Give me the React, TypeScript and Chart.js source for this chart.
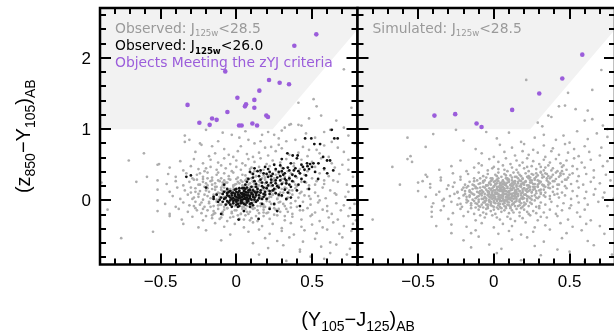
import React, { useEffect, useRef } from "react";
import { Chart, registerables } from "chart.js";

Chart.register(...registerables);

// ---------- axes ----------
const X_MIN = -0.9;
const X_MAX = 0.8;
const Y_MIN = -0.9;
const Y_MAX = 2.7;
const xMajorTicks = [-0.5, 0, 0.5];
const xTickLabels = ["\u22120.5", "0", "0.5"];
const xMinorTicks = [-0.8, -0.7, -0.6, -0.4, -0.3, -0.2, -0.1, 0.1, 0.2, 0.3, 0.4, 0.6, 0.7];
const yMajorTicks = [0, 1, 2];
const yTickLabels = ["0", "1", "2"];
const yMinorTicks = [-0.8, -0.6, -0.4, -0.2, 0.2, 0.4, 0.6, 0.8, 1.2, 1.4, 1.6, 1.8, 2.2, 2.4, 2.6];

// ---------- zYJ selection boundary ----------
const selectionX = [-0.9, 0.24, 0.8];
const selectionY = [1.0, 1.0, 2.4];

// ---------- observed, J125w < 28.5 (gray) ----------
const leftGray: number[][] = [
  [0.51,1.42],[0.41,1.37],[0.53,1.32],[0.71,1.84],[0.48,1.15],[0.56,1.19],[0.43,1.05],[0.36,1.07],[0.62,0.99],[0.71,1.02],[0.32,1.02],[0.35,1.06],[0.41,1.06],[0.66,1.12],[0.76,1.30],
  [-0.34,0.91],[-0.20,0.99],[-0.09,0.95],[-0.03,0.92],[0.06,0.97],[0.17,0.92],[0.21,0.96],[0.25,0.92],[0.30,0.98],[0.46,0.94],[0.58,0.96],[0.74,0.91],
  [-0.34,0.82],[-0.31,0.85],[-0.12,0.83],[0.02,0.88],[0.08,0.85],[0.16,0.83],[0.28,0.87],[0.33,0.83],[0.39,0.85],[0.52,0.88],[0.63,0.82],[0.78,0.80],
  [-0.24,0.80],[-0.23,0.78],[-0.08,0.72],[0.03,0.76],[0.12,0.80],[0.19,0.74],[0.23,0.75],[0.28,0.78],[0.30,0.73],[0.44,0.75],[0.48,0.71],[0.53,0.71],[0.58,0.77],[0.67,0.74],[-0.16,0.76],
  [-0.61,0.66],[-0.27,0.68],[-0.18,0.62],[-0.14,0.66],[-0.05,0.64],[0.01,0.69],[0.07,0.65],[0.11,0.61],[0.15,0.67],[0.21,0.63],[0.26,0.69],[0.35,0.64],[0.41,0.67],[0.47,0.62],[0.61,0.61],[0.71,0.68],[-0.02,0.61],[0.55,0.66],
  [-0.71,0.56],[-0.52,0.50],[-0.51,0.51],[-0.37,0.55],[-0.28,0.58],[-0.22,0.52],[-0.17,0.57],[-0.12,0.53],[-0.08,0.59],[-0.04,0.51],[0.00,0.56],[0.04,0.52],[0.08,0.58],[0.12,0.54],[0.16,0.59],[0.20,0.51],[0.24,0.56],[0.29,0.53],[0.33,0.58],[0.38,0.52],[0.43,0.57],[0.50,0.54],[0.56,0.59],[0.63,0.52],[0.70,0.50],[0.74,0.57],
  [-0.44,0.46],[-0.35,0.42],[-0.30,0.48],[-0.25,0.44],[-0.21,0.41],[-0.17,0.47],[-0.13,0.43],[-0.10,0.49],[-0.07,0.45],[-0.03,0.41],[0.00,0.47],[0.03,0.43],[0.06,0.49],[0.09,0.44],[0.12,0.41],[0.15,0.47],[0.18,0.43],[0.22,0.48],[0.26,0.42],[0.30,0.46],[0.34,0.41],[0.38,0.48],[0.42,0.44],[0.47,0.41],[0.52,0.47],[0.58,0.43],[0.65,0.46],[0.74,0.43],[-0.20,0.45],[0.10,0.46],
  [-0.59,0.33],[-0.52,0.28],[-0.45,0.37],[-0.40,0.33],[-0.33,0.38],[-0.29,0.31],[-0.26,0.36],[-0.22,0.33],[-0.19,0.39],[-0.16,0.32],[-0.13,0.36],[-0.10,0.31],[-0.08,0.38],[-0.05,0.34],[-0.02,0.39],[0.01,0.32],[0.04,0.36],[0.07,0.31],[0.10,0.38],[0.13,0.34],[0.16,0.39],[0.19,0.32],[0.22,0.36],[0.25,0.31],[0.28,0.37],[0.32,0.33],[0.36,0.38],[0.40,0.32],[0.45,0.36],[0.50,0.31],[0.55,0.38],[0.61,0.34],[0.68,0.37],[0.77,0.33],[-0.12,0.39],[0.06,0.35],[0.18,0.35],[0.30,0.39],[-0.24,0.38],[0.42,0.38],
  [-0.89,0.25],[-0.66,0.26],[-0.46,0.23],[-0.40,0.27],[-0.35,0.21],[-0.31,0.26],[-0.28,0.29],[-0.25,0.22],[-0.22,0.26],[-0.19,0.21],[-0.16,0.28],[-0.14,0.24],[-0.11,0.27],[-0.09,0.21],[-0.06,0.25],[-0.04,0.29],[-0.01,0.22],[0.01,0.26],[0.04,0.21],[0.06,0.28],[0.09,0.24],[0.11,0.27],[0.14,0.21],[0.16,0.25],[0.19,0.29],[0.22,0.23],[0.25,0.27],[0.28,0.21],[0.31,0.25],[0.35,0.29],[0.39,0.22],[0.43,0.26],[0.48,0.21],[0.53,0.27],[0.58,0.23],[0.64,0.28],[0.67,0.26],[0.73,0.22],[-0.08,0.28],[0.02,0.24],[0.12,0.23],[0.20,0.26],[0.33,0.23],[-0.20,0.24],
  [-0.52,0.15],[-0.44,0.12],[-0.39,0.18],[-0.34,0.14],[-0.30,0.11],[-0.27,0.17],[-0.24,0.13],[-0.21,0.19],[-0.18,0.12],[-0.16,0.16],[-0.14,0.19],[-0.12,0.11],[-0.10,0.15],[-0.08,0.18],[-0.06,0.12],[-0.04,0.16],[-0.02,0.19],[0.00,0.11],[0.02,0.14],[0.04,0.18],[0.06,0.12],[0.08,0.16],[0.10,0.19],[0.12,0.13],[0.14,0.17],[0.16,0.11],[0.18,0.15],[0.20,0.19],[0.23,0.12],[0.26,0.16],[0.29,0.11],[0.32,0.18],[0.35,0.14],[0.39,0.17],[0.43,0.12],[0.47,0.16],[0.52,0.11],[0.57,0.18],[0.62,0.14],[0.65,0.10],[0.74,0.12],[0.77,0.19],[-0.03,0.13],[0.05,0.15],[0.11,0.16],[0.21,0.14],[-0.09,0.13],[0.28,0.19],
  [-0.52,0.00],[-0.42,0.06],[-0.37,0.02],[-0.32,0.08],[-0.28,0.04],[-0.25,0.09],[-0.22,0.01],[-0.19,0.06],[-0.17,0.03],[-0.15,0.08],[-0.13,0.01],[-0.11,0.05],[-0.09,0.09],[-0.07,0.02],[-0.05,0.06],[-0.03,0.03],[-0.01,0.08],[0.01,0.01],[0.03,0.05],[0.05,0.09],[0.07,0.03],[0.09,0.07],[0.11,0.01],[0.13,0.05],[0.15,0.09],[0.17,0.02],[0.19,0.06],[0.21,0.03],[0.24,0.08],[0.27,0.02],[0.30,0.06],[0.33,0.01],[0.37,0.08],[0.41,0.04],[0.45,0.07],[0.49,0.02],[0.54,0.06],[0.59,0.03],[0.66,0.08],[0.72,0.05],[0.78,0.01],[-0.08,0.05],[0.00,0.04],[0.08,0.06],[0.16,0.05],[0.23,0.05],
  [-0.47,-0.05],[-0.40,-0.09],[-0.35,-0.03],[-0.31,-0.07],[-0.27,-0.02],[-0.24,-0.06],[-0.21,-0.09],[-0.18,-0.04],[-0.15,-0.08],[-0.13,-0.02],[-0.10,-0.06],[-0.08,-0.09],[-0.06,-0.03],[-0.03,-0.07],[-0.01,-0.01],[0.02,-0.05],[0.04,-0.09],[0.06,-0.02],[0.09,-0.06],[0.11,-0.03],[0.14,-0.08],[0.16,-0.04],[0.19,-0.09],[0.22,-0.02],[0.25,-0.06],[0.28,-0.03],[0.32,-0.08],[0.36,-0.04],[0.40,-0.09],[0.44,-0.02],[0.49,-0.06],[0.54,-0.03],[0.60,-0.08],[0.66,-0.04],[0.71,-0.07],[0.78,-0.05],[-0.04,-0.04],[0.07,-0.08],[0.18,-0.06],
  [-0.85,-0.13],[-0.52,-0.15],[-0.44,-0.19],[-0.38,-0.12],[-0.32,-0.16],[-0.27,-0.11],[-0.23,-0.18],[-0.19,-0.14],[-0.15,-0.19],[-0.12,-0.12],[-0.09,-0.16],[-0.06,-0.11],[-0.03,-0.18],[0.00,-0.14],[0.03,-0.19],[0.06,-0.12],[0.09,-0.16],[0.12,-0.11],[0.15,-0.18],[0.18,-0.13],[0.21,-0.17],[0.25,-0.11],[0.29,-0.16],[0.33,-0.12],[0.37,-0.19],[0.42,-0.14],[0.47,-0.11],[0.52,-0.17],[0.57,-0.13],[0.63,-0.19],[0.69,-0.14],[0.75,-0.11],
  [-0.44,-0.22],[-0.36,-0.27],[-0.29,-0.23],[-0.22,-0.28],[-0.16,-0.21],[-0.11,-0.26],[-0.06,-0.29],[-0.02,-0.23],[0.02,-0.27],[0.06,-0.21],[0.10,-0.25],[0.14,-0.29],[0.18,-0.22],[0.22,-0.26],[0.27,-0.21],[0.32,-0.28],[0.37,-0.23],[0.43,-0.27],[0.49,-0.22],[0.55,-0.29],[0.61,-0.24],[0.67,-0.27],[0.74,-0.22],[0.79,-0.28],
  [-0.35,-0.33],[-0.25,-0.38],[-0.14,-0.32],[-0.08,-0.37],[-0.01,-0.33],[0.05,-0.38],[0.11,-0.31],[0.17,-0.36],[0.24,-0.33],[0.30,-0.39],[0.36,-0.32],[0.43,-0.37],[0.50,-0.34],[0.57,-0.38],[0.64,-0.31],[0.71,-0.36],[0.77,-0.33],
  [-0.55,-0.44],[-0.20,-0.42],[-0.04,-0.48],[0.08,-0.44],[0.15,-0.41],[0.22,-0.47],[0.30,-0.43],[0.38,-0.48],[0.45,-0.42],[0.53,-0.46],[0.60,-0.41],[0.68,-0.47],[0.76,-0.43],
  [-0.76,-0.53],[-0.10,-0.56],[0.11,-0.60],[0.19,-0.53],[0.27,-0.57],[0.35,-0.52],[0.44,-0.58],[0.52,-0.54],[0.62,-0.59],[0.70,-0.52],
  [0.21,-0.67],[0.31,-0.63],[0.42,-0.69],[0.56,-0.65],[0.66,-0.62],[0.75,-0.68],
  [0.15,-0.76],[0.42,-0.72],[0.49,-0.79],[0.62,-0.74],[0.73,-0.76],
  [0.33,-0.85],[0.58,-0.82],
];

const leftGrayCore: number[][] = [
  [-0.25,0.05],[-0.22,-0.12],[-0.20,0.14],[-0.18,-0.02],[-0.16,0.22],[-0.15,-0.15],[-0.13,0.09],[-0.12,0.28],[-0.11,-0.06],[-0.10,0.18],[-0.09,-0.20],[-0.08,0.03],[-0.07,0.25],[-0.06,-0.11],[-0.05,0.14],[-0.04,-0.24],[-0.03,0.06],[-0.02,0.21],[-0.01,-0.14],[0.00,0.30],[0.01,-0.03],[0.02,0.16],[0.03,-0.19],[0.04,0.26],[0.05,-0.09],[0.06,0.11],[0.07,-0.16],[0.08,0.22],[0.09,-0.04],[0.10,0.31],[0.11,-0.12],[0.12,0.19],[0.13,-0.22],[0.14,0.08],[0.15,0.27],[0.16,-0.08],[0.17,0.15],[0.18,-0.17],[0.19,0.24],[0.20,-0.01],[0.21,0.33],[0.22,-0.10],[0.23,0.20],[0.24,0.08],[0.25,-0.20],[0.26,0.29],[0.27,0.02],[0.28,-0.12],[0.30,0.16],[0.31,-0.05],[0.33,0.26],[0.34,-0.16],[0.35,0.10],[-0.14,0.15],[-0.19,0.31],[-0.28,-0.08],[-0.30,0.18],[-0.26,0.29],[0.02,-0.26],[0.09,-0.28],
  [-0.29,0.02],[-0.27,0.12],[-0.26,-0.14],[-0.24,0.22],[-0.23,-0.03],[-0.21,0.08],[-0.20,-0.22],[-0.19,0.17],[-0.17,-0.09],[-0.17,0.27],[-0.15,0.04],[-0.14,-0.18],[-0.13,0.19],[-0.12,-0.07],[-0.11,0.10],[-0.10,-0.24],[-0.09,0.25],[-0.08,-0.13],[-0.07,0.13],[-0.06,-0.05],[-0.05,0.30],[-0.04,0.09],[-0.03,-0.16],[-0.02,0.15],[-0.01,-0.08],[0.00,0.23],[0.01,-0.21],[0.02,0.10],[0.03,0.28],[0.04,-0.12],[0.05,0.20],[0.06,-0.03],[0.07,0.29],[0.08,-0.19],[0.09,0.18],[0.10,-0.10],[0.11,0.26],[0.12,-0.02],[0.13,0.13],[0.14,-0.14],[0.15,0.21],[0.16,0.02],[0.17,0.31],[0.18,-0.09],[0.19,0.09],[0.20,-0.18],[0.21,0.20],[0.22,0.05],[0.23,-0.05],[0.24,0.28],[0.25,0.13],[0.26,-0.13],[0.27,0.21],[0.28,0.06],[0.29,-0.02],[0.30,0.30],[0.31,0.11],[0.32,-0.22],[0.33,0.17],[0.34,0.04],[0.35,0.33],[0.36,-0.10],[0.37,0.14],[0.38,0.26],[0.39,-0.01],[0.40,0.20],[-0.22,0.30],[-0.16,-0.25],[0.13,0.34],[0.05,-0.27],[0.26,0.36],[0.42,0.10],[0.44,-0.14],[0.46,0.25],[0.48,0.06],[0.50,-0.20],[0.52,0.22],[0.55,0.00],[0.58,0.28],[0.60,-0.15],
];

// ---------- observed, J125w < 26.0 (black) ----------
const leftBlack: number[][] = [
  [0.63,0.99],[0.647,0.87],[0.669,0.87],[0.495,0.87],[0.454,0.87],[0.515,0.79],[0.553,0.79],[0.337,0.66],[0.372,0.63],[0.405,0.63],[0.573,0.61],[0.619,0.56],[0.599,0.56],[0.467,0.52],[0.487,0.51],[0.509,0.52],[0.542,0.52],[0.40,0.59],[0.30,0.58],[0.25,0.50],[0.44,0.47],[0.48,0.44],[0.52,0.40],[0.58,0.45],[0.36,0.52],[0.29,0.49],
  [0.12,0.45],[0.16,0.42],[0.19,0.47],[0.22,0.40],[0.26,0.44],[0.30,0.41],[0.34,0.46],[0.38,0.42],[0.42,0.38],[0.46,0.35],[0.11,0.37],[0.15,0.34],[0.18,0.38],[0.21,0.33],[0.24,0.37],[0.27,0.32],[0.31,0.36],[0.35,0.31],[0.39,0.34],[0.43,0.30],[0.08,0.30],[0.12,0.27],[0.16,0.29],[0.20,0.25],[0.23,0.29],[0.26,0.24],[0.29,0.28],[0.33,0.24],[0.37,0.27],[0.41,0.22],[0.45,0.26],[0.06,0.22],[0.10,0.19],[0.13,0.23],[0.17,0.20],[0.20,0.17],[0.24,0.21],[0.28,0.18],[0.32,0.15],[0.36,0.19],[0.40,0.14],[0.09,0.14],[0.14,0.12],[0.18,0.09],[0.22,0.13],[0.26,0.10],[0.30,0.07],[0.34,0.11],[0.05,0.17],[0.07,0.26],[0.14,0.41],[0.23,0.34],[0.28,0.40],[0.32,0.30],[0.20,0.37],[0.17,0.25],[0.25,0.16],[0.35,0.22],[0.21,0.44],[0.31,0.45],[0.11,0.32],[0.09,0.40],
  [-0.08,0.02],[-0.06,0.07],[-0.05,-0.03],[-0.04,0.04],[-0.03,0.10],[-0.02,-0.01],[-0.01,0.06],[0.00,0.01],[0.00,0.12],[0.01,-0.05],[0.01,0.08],[0.02,0.03],[0.02,-0.08],[0.03,0.10],[0.03,0.00],[0.04,0.05],[0.04,-0.03],[0.05,0.13],[0.05,0.02],[0.06,0.08],[0.06,-0.06],[0.07,0.04],[0.07,0.11],[0.08,-0.01],[0.08,0.07],[0.09,0.03],[0.09,0.15],[0.10,-0.04],[0.10,0.09],[0.11,0.05],[0.12,0.01],[0.12,0.12],[-0.07,-0.06],[-0.09,0.09],[-0.10,0.04],[-0.03,-0.09],[-0.01,0.15],[0.02,0.17],[0.06,0.16],[0.13,0.07],[0.14,0.16],[0.15,0.03],[0.16,0.11],[-0.02,0.03],[0.01,0.04],[0.04,0.08],[0.03,-0.04],[0.05,0.06],[0.00,-0.02],[0.07,0.00],[-0.04,0.00],[0.02,0.07],[0.06,0.02],[0.08,0.11],[-0.05,0.12],[0.11,-0.07],[-0.12,-0.02],[0.13,-0.02],[0.09,-0.09],[-0.06,0.16],[0.18,0.05],[0.17,-0.05],[0.20,0.02],[0.19,0.12],[-0.13,0.08],
  [-0.07,0.04],[-0.06,0.10],[-0.06,-0.01],[-0.05,0.06],[-0.04,-0.06],[-0.04,0.13],[-0.03,0.02],[-0.03,0.07],[-0.02,0.11],[-0.02,-0.04],[-0.01,0.01],[-0.01,0.09],[0.00,0.05],[0.00,-0.06],[0.01,0.11],[0.01,0.00],[0.02,0.06],[0.02,0.13],[0.03,-0.02],[0.03,0.04],[0.04,0.10],[0.04,0.01],[0.05,-0.05],[0.05,0.09],[0.06,0.04],[0.06,0.12],[0.07,-0.03],[0.07,0.07],[0.08,0.02],[0.08,0.14],[0.09,0.06],[0.09,-0.05],[0.10,0.11],[0.10,0.01],[0.11,0.08],[0.11,0.14],[0.12,0.04],[0.13,0.10],[0.14,0.00],[0.15,0.07],[0.16,0.14],[0.17,0.02],[0.18,0.18],[0.19,0.08],[0.21,0.21],[0.22,0.09],[0.23,0.25],[0.24,0.14],[0.26,0.28],[0.27,0.20],[0.29,0.34],[0.30,0.23],[0.32,0.38],[0.33,0.28],[0.35,0.42],[0.37,0.36],[0.39,0.45],[0.41,0.41],[0.43,0.50],[0.45,0.43],[0.47,0.48],[0.50,0.47],[-0.09,-0.02],[-0.08,0.12],[0.00,0.16],[0.04,0.17],[0.01,-0.09],[0.07,0.18],[-0.11,0.01],[0.13,0.19],
  [-0.33,0.33],[-0.30,0.35],[-0.15,0.02],[-0.15,0.05],[0.015,-0.27],[0.147,-0.26],[-0.10,-0.19],[0.42,-0.08],[0.28,0.08],[0.25,-0.05],[0.22,-0.12],[0.33,0.02],[-0.20,0.18],[-0.08,0.22],[0.05,-0.15],[0.27,-0.15],[0.36,0.04],[0.48,0.16],[0.54,0.30],[0.60,0.38],[0.64,0.42],
];

// ---------- objects meeting the zYJ criteria (observed) ----------
const leftPurple: number[][] = [
  [0.528,2.33],[0.383,2.17],[-0.073,1.81],[0.216,1.69],[0.286,1.65],[0.348,1.63],[0.152,1.54],[-0.322,1.34],[0.007,1.44],[0.119,1.41],[0.064,1.35],[0.057,1.32],[0.119,1.30],[-0.059,1.24],[0.198,1.19],[0.209,1.17],[-0.160,1.15],[-0.130,1.13],[-0.244,1.09],[-0.176,1.06],[0.018,1.05],[0.035,1.05],[0.106,1.08],[0.137,1.05],
];

// ---------- simulated, J125w < 28.5 (gray) ----------
const rightGray: number[][] = [
  [0.214,1.69],[0.71,1.83],[0.65,1.55],[0.49,1.51],[0.43,1.32],[0.47,1.33],[0.54,1.28],[0.62,1.26],[0.36,1.19],[0.38,1.17],[0.29,1.09],[0.32,1.04],[0.60,1.12],[0.65,1.14],[0.72,1.05],[0.75,1.0],
  [-0.57,0.88],[-0.40,0.93],[-0.25,0.99],[0.10,0.95],[-0.05,0.96],[0.33,0.92],[0.55,0.97],[0.68,0.94],[0.46,0.91],
  [-0.20,0.84],[0.02,0.87],[0.18,0.82],[0.27,0.88],[0.41,0.85],[0.50,0.81],[0.62,0.86],[0.75,0.89],
  [-0.45,0.75],[-0.12,0.72],[0.04,0.78],[0.12,0.74],[0.20,0.79],[0.26,0.71],[0.33,0.77],[0.39,0.73],[0.47,0.79],[0.53,0.72],[0.60,0.76],[0.71,0.74],
  [-0.55,0.62],[-0.08,0.66],[0.00,0.61],[0.07,0.68],[0.14,0.63],[0.19,0.69],[0.23,0.64],[0.29,0.67],[0.34,0.61],[0.38,0.69],[0.43,0.64],[0.49,0.67],[0.56,0.62],[0.63,0.68],[0.70,0.63],
  [-0.57,0.58],[-0.54,0.54],[-0.22,0.56],[-0.10,0.52],[-0.03,0.58],[0.03,0.54],[0.08,0.59],[0.11,0.51],[0.15,0.56],[0.19,0.53],[0.22,0.59],[0.26,0.55],[0.30,0.51],[0.33,0.57],[0.37,0.53],[0.41,0.58],[0.44,0.52],[0.48,0.56],[0.53,0.59],[0.58,0.53],[0.64,0.57],[0.75,0.55],
  [-0.67,0.47],[-0.36,0.43],[-0.28,0.48],[-0.18,0.41],[-0.13,0.46],[-0.08,0.49],[-0.04,0.42],[0.00,0.47],[0.03,0.44],[0.06,0.49],[0.09,0.41],[0.12,0.46],[0.15,0.43],[0.17,0.49],[0.20,0.45],[0.23,0.41],[0.25,0.48],[0.28,0.44],[0.31,0.47],[0.33,0.42],[0.36,0.49],[0.39,0.45],[0.42,0.41],[0.45,0.47],[0.48,0.43],[0.52,0.48],[0.55,0.44],[0.60,0.46],[0.66,0.42],[0.72,0.48],[0.22,0.47],[0.07,0.43],[-0.01,0.45],[0.34,0.46],[0.46,0.49],
  [-0.45,0.36],[-0.35,0.32],[-0.27,0.38],[-0.22,0.33],[-0.17,0.37],[-0.13,0.31],[-0.10,0.39],[-0.07,0.34],[-0.04,0.37],[-0.02,0.31],[0.01,0.36],[0.03,0.39],[0.05,0.33],[0.07,0.37],[0.09,0.31],[0.11,0.35],[0.13,0.39],[0.15,0.33],[0.17,0.36],[0.19,0.31],[0.21,0.38],[0.23,0.34],[0.25,0.37],[0.27,0.31],[0.29,0.35],[0.31,0.39],[0.33,0.33],[0.35,0.37],[0.37,0.31],[0.39,0.36],[0.41,0.39],[0.43,0.33],[0.46,0.37],[0.49,0.32],[0.52,0.38],[0.56,0.34],[0.61,0.37],[0.66,0.32],[0.74,0.36],[0.08,0.35],[0.18,0.34],[0.28,0.38],[0.36,0.34],[-0.05,0.32],[0.12,0.32],[0.24,0.32],[0.44,0.38],[0.02,0.34],[0.16,0.39],[0.32,0.36],
  [-0.62,0.22],[-0.50,0.25],[-0.47,0.27],[-0.44,0.33],[-0.42,0.23],[-0.35,0.28],[-0.30,0.21],[-0.26,0.25],[-0.22,0.29],[-0.19,0.22],[-0.16,0.26],[-0.13,0.21],[-0.11,0.28],[-0.09,0.24],[-0.07,0.27],[-0.05,0.21],[-0.03,0.25],[-0.01,0.29],[0.01,0.23],[0.03,0.27],[0.05,0.21],[0.07,0.25],[0.09,0.29],[0.11,0.22],[0.13,0.26],[0.15,0.21],[0.17,0.28],[0.19,0.24],[0.21,0.27],[0.23,0.21],[0.25,0.25],[0.27,0.29],[0.29,0.22],[0.31,0.26],[0.33,0.21],[0.35,0.28],[0.37,0.24],[0.39,0.27],[0.42,0.22],[0.45,0.26],[0.48,0.29],[0.51,0.23],[0.55,0.27],[0.59,0.22],[0.64,0.26],[0.70,0.24],[0.77,0.28],[0.00,0.26],[0.06,0.28],[0.12,0.24],[0.18,0.22],[0.24,0.28],[0.30,0.24],[0.36,0.22],[-0.02,0.22],[0.08,0.23],[0.14,0.27],[0.20,0.25],[0.26,0.23],[0.04,0.24],[0.10,0.26],[0.16,0.24],
  [-0.50,0.13],[-0.42,0.18],[-0.36,0.12],[-0.31,0.16],[-0.27,0.19],[-0.24,0.11],[-0.21,0.15],[-0.18,0.18],[-0.16,0.12],[-0.14,0.16],[-0.12,0.19],[-0.10,0.11],[-0.08,0.14],[-0.06,0.18],[-0.04,0.12],[-0.02,0.16],[0.00,0.19],[0.01,0.11],[0.03,0.14],[0.04,0.18],[0.06,0.12],[0.07,0.16],[0.09,0.19],[0.10,0.11],[0.12,0.15],[0.13,0.18],[0.15,0.12],[0.16,0.16],[0.18,0.19],[0.19,0.11],[0.21,0.14],[0.23,0.18],[0.25,0.12],[0.27,0.16],[0.29,0.19],[0.31,0.11],[0.33,0.15],[0.36,0.18],[0.39,0.12],[0.42,0.16],[0.45,0.11],[0.48,0.17],[0.52,0.13],[0.56,0.18],[0.61,0.12],[0.67,0.16],[0.73,0.11],[-0.01,0.13],[0.05,0.15],[0.08,0.13],[0.11,0.17],[0.14,0.14],[0.17,0.13],[0.20,0.17],[0.24,0.15],[-0.07,0.12],[-0.03,0.17],[0.02,0.16],[0.22,0.12],[0.28,0.13],[-0.11,0.17],[0.34,0.19],[-0.19,0.13],[0.06,0.19],[0.26,0.19],
  [-0.45,0.05],[-0.38,0.08],[-0.33,0.02],[-0.29,0.06],[-0.26,0.09],[-0.23,0.03],[-0.20,0.07],[-0.18,0.01],[-0.16,0.05],[-0.14,0.09],[-0.12,0.03],[-0.10,0.06],[-0.09,0.09],[-0.07,0.02],[-0.06,0.05],[-0.04,0.08],[-0.03,0.01],[-0.02,0.04],[0.00,0.07],[0.01,0.02],[0.02,0.09],[0.03,0.05],[0.04,0.01],[0.05,0.07],[0.06,0.03],[0.07,0.09],[0.08,0.05],[0.09,0.01],[0.10,0.08],[0.11,0.04],[0.12,0.06],[0.13,0.02],[0.14,0.09],[0.15,0.05],[0.17,0.01],[0.18,0.07],[0.20,0.03],[0.21,0.08],[0.23,0.05],[0.25,0.01],[0.27,0.07],[0.29,0.03],[0.31,0.09],[0.34,0.05],[0.37,0.02],[0.40,0.08],[0.43,0.04],[0.47,0.07],[0.51,0.02],[0.55,0.06],[0.60,0.03],[0.66,0.08],[0.72,0.04],[0.79,0.02],[-0.01,0.06],[0.03,0.08],[0.06,0.06],[0.09,0.04],[0.12,0.09],[-0.05,0.03],[-0.08,0.07],[0.16,0.08],[0.19,0.05],[0.22,0.02],[0.00,0.03],[0.07,0.00],[-0.03,0.09],[0.14,0.03],[0.04,0.04],[0.10,0.02],
  [-0.40,-0.04],[-0.34,0.00],[-0.33,-0.08],[-0.28,-0.02],[-0.24,-0.06],[-0.21,-0.09],[-0.18,-0.03],[-0.15,-0.07],[-0.13,-0.01],[-0.11,-0.05],[-0.09,-0.09],[-0.07,-0.03],[-0.05,-0.06],[-0.03,-0.02],[-0.01,-0.08],[0.01,-0.04],[0.03,-0.07],[0.05,-0.01],[0.06,-0.05],[0.08,-0.09],[0.10,-0.03],[0.12,-0.06],[0.14,-0.02],[0.16,-0.08],[0.18,-0.04],[0.20,-0.07],[0.22,-0.01],[0.25,-0.05],[0.28,-0.09],[0.31,-0.03],[0.34,-0.06],[0.38,-0.02],[0.42,-0.08],[0.46,-0.04],[0.51,-0.07],[0.56,-0.03],[0.62,-0.06],[0.69,-0.02],[0.75,-0.08],[-0.02,-0.05],[0.02,-0.01],[0.04,-0.09],[0.07,-0.02],[0.09,-0.06],[0.11,-0.09],[0.13,-0.04],[-0.06,-0.01],[-0.10,-0.02],[0.17,-0.01],[0.00,-0.03],[0.24,-0.03],[0.19,-0.09],[-0.04,-0.09],[0.30,-0.08],
  [-0.41,-0.09],[-0.41,-0.16],[-0.35,-0.14],[-0.27,-0.18],[-0.22,-0.12],[-0.17,-0.16],[-0.13,-0.19],[-0.10,-0.13],[-0.07,-0.17],[-0.04,-0.11],[-0.02,-0.15],[0.01,-0.19],[0.03,-0.12],[0.05,-0.16],[0.08,-0.11],[0.10,-0.18],[0.12,-0.14],[0.15,-0.12],[0.17,-0.17],[0.20,-0.13],[0.23,-0.19],[0.26,-0.15],[0.30,-0.11],[0.33,-0.17],[0.37,-0.13],[0.41,-0.19],[0.45,-0.14],[0.50,-0.11],[0.55,-0.17],[0.60,-0.13],[-0.05,-0.19],[0.00,-0.13],[0.07,-0.14],[0.13,-0.17],[0.18,-0.11],[0.28,-0.18],[-0.15,-0.11],[0.22,-0.16],
  [-0.80,-0.27],[-0.41,-0.23],[-0.30,-0.26],[-0.20,-0.22],[-0.12,-0.28],[-0.06,-0.24],[-0.01,-0.21],[0.04,-0.27],[0.09,-0.23],[0.14,-0.29],[0.19,-0.25],[0.24,-0.21],[0.29,-0.28],[0.35,-0.24],[0.42,-0.22],[0.49,-0.27],[0.57,-0.23],[0.64,-0.28],[0.02,-0.24],[0.11,-0.26],[0.17,-0.22],[-0.09,-0.21],[0.31,-0.23],
  [-0.28,-0.34],[-0.18,-0.37],[-0.08,-0.32],[0.00,-0.38],[0.06,-0.33],[0.12,-0.36],[0.21,-0.31],[0.27,-0.38],[0.34,-0.35],[0.44,-0.32],[0.52,-0.37],[0.61,-0.33],[0.70,-0.36],[-0.38,-0.36],
  [-0.28,-0.46],[-0.15,-0.46],[-0.12,-0.42],[0.03,-0.47],[0.10,-0.43],[0.18,-0.48],[0.26,-0.44],[0.37,-0.41],[0.48,-0.46],[0.58,-0.42],[0.73,-0.47],
  [-0.20,-0.56],[-0.03,-0.62],[0.12,-0.55],[0.22,-0.52],[0.33,-0.58],[0.45,-0.53],[0.62,-0.57],[-0.10,-0.51],
  [-0.15,-0.66],[0.05,-0.68],[0.27,-0.64],[0.42,-0.69],[0.66,-0.63],
  [0.02,-0.74],[0.31,-0.77],[0.50,-0.72],[0.78,-0.76],
  [0.18,-0.84],[0.60,-0.86],
];

const rightGrayCore: number[][] = [
  [-0.18,0.05],[-0.16,0.14],[-0.15,-0.04],[-0.14,0.22],[-0.13,0.08],[-0.12,-0.10],[-0.11,0.12],[-0.10,0.01],[-0.09,0.18],[-0.08,-0.06],[-0.08,0.10],[-0.07,0.25],[-0.06,0.04],[-0.05,-0.12],[-0.05,0.15],[-0.04,0.21],[-0.03,0.00],[-0.03,0.12],[-0.02,-0.07],[-0.02,0.27],[-0.01,0.09],[-0.01,0.17],[0.00,-0.01],[0.00,0.14],[0.01,0.05],[0.01,0.22],[0.02,-0.10],[0.02,0.11],[0.03,0.02],[0.03,0.19],[0.04,0.07],[0.04,-0.05],[0.05,0.13],[0.05,0.25],[0.06,0.00],[0.06,0.10],[0.07,0.17],[0.07,-0.08],[0.08,0.04],[0.08,0.21],[0.09,0.12],[0.09,-0.02],[0.10,0.07],[0.10,0.29],[0.11,0.14],[0.11,-0.11],[0.12,0.03],[0.12,0.20],[0.13,0.10],[0.13,-0.05],[0.14,0.24],[0.14,0.06],[0.15,0.15],[0.15,-0.01],[0.16,0.31],[0.16,0.09],[0.17,0.20],[0.17,-0.07],[0.18,0.03],[0.18,0.27],[0.19,0.13],[0.20,-0.03],[0.20,0.22],[0.21,0.08],[0.22,0.33],[0.22,0.16],[0.23,-0.08],[0.24,0.03],[0.24,0.25],[0.25,0.11],[0.26,0.36],[0.27,0.19],[0.28,0.04],[0.29,0.28],[0.30,0.14],[0.31,0.40],[0.32,0.22],[0.33,0.07],[0.35,0.31],[0.37,0.17],[0.38,0.42],[0.40,0.27],[0.42,0.09],[0.44,0.35],[0.47,0.20],[-0.20,0.18],[-0.22,-0.05],[-0.24,0.12],[-0.01,0.02],[0.04,0.16],[0.06,0.23],[-0.04,0.07],[0.09,0.06],[0.13,0.17],[0.02,0.29],[-0.06,-0.03],
  [-0.19,0.09],[-0.17,-0.01],[-0.17,0.20],[-0.15,0.11],[-0.14,0.01],[-0.13,0.27],[-0.12,0.17],[-0.11,0.05],[-0.10,-0.08],[-0.10,0.23],[-0.09,0.13],[-0.08,0.02],[-0.07,0.19],[-0.07,-0.10],[-0.06,0.09],[-0.06,0.28],[-0.05,0.00],[-0.05,0.21],[-0.04,0.13],[-0.04,-0.06],[-0.03,0.05],[-0.03,0.24],[-0.02,0.15],[-0.02,-0.02],[-0.01,0.11],[-0.01,0.31],[0.00,0.04],[0.00,0.20],[0.00,-0.09],[0.01,0.14],[0.01,0.27],[0.02,0.01],[0.02,0.19],[0.03,0.09],[0.03,-0.04],[0.03,0.31],[0.04,0.13],[0.04,0.21],[0.05,0.04],[0.05,-0.11],[0.05,0.18],[0.06,0.27],[0.06,0.07],[0.07,0.13],[0.07,0.22],[0.07,-0.04],[0.08,0.09],[0.08,0.31],[0.08,0.00],[0.09,0.17],[0.09,0.25],[0.10,0.04],[0.10,0.13],[0.10,-0.07],[0.11,0.21],[0.11,0.09],[0.12,-0.01],[0.12,0.28],[0.12,0.15],[0.13,0.06],[0.13,0.22],[0.14,-0.08],[0.14,0.12],[0.14,0.33],[0.15,0.02],[0.15,0.19],[0.16,0.26],[0.16,0.06],[0.17,0.13],[0.17,-0.02],[0.18,0.22],[0.18,0.10],[0.19,0.30],[0.19,0.02],[0.20,0.17],[0.20,0.08],[0.21,0.26],[0.21,-0.05],[0.22,0.21],[0.22,0.06],[0.23,0.13],[0.23,0.31],[0.24,0.19],[0.25,0.06],[0.25,0.28],[0.26,0.15],[0.27,0.23],[0.27,0.00],[0.28,0.33],[0.28,0.10],[0.29,0.19],[0.30,0.27],[0.30,0.05],[0.31,0.15],[0.32,0.32],[0.33,0.20],[0.34,0.11],[0.34,0.38],[0.36,0.26],[0.37,0.06],[0.38,0.33],[0.39,0.19],[0.41,0.30],[0.43,0.22],[0.45,0.41],[0.47,0.29],[0.50,0.36],[-0.16,0.07],[-0.09,0.31],[-0.12,-0.04],[0.02,0.24],[0.04,-0.01],[0.11,0.01],[-0.02,0.07],[0.06,0.15],[0.09,0.08],[0.15,0.09],[0.19,0.16],[0.01,0.09],
];

// ---------- objects meeting the zYJ criteria (simulated) ----------
const rightPurple: number[][] = [
  [0.584,2.045],[0.452,1.71],[0.300,1.50],[0.121,1.27],[-0.392,1.19],[-0.255,1.21],[-0.114,1.08],[-0.081,1.03],
];

// ---------- styling ----------
const GRAY = "#adadad";
const BLACK = "#111111";
const PURPLE = "#9b5ddb";
const SHADE = "#f2f2f2";
const LEGEND_GRAY = "#9a9a9a";
const FONT = "'Liberation Sans', Arial, sans-serif";
const LEGEND_FONT = "'DejaVu Sans', sans-serif";

type Part = { t: string; sub?: boolean; bold?: boolean };

function richWidth(ctx: CanvasRenderingContext2D, parts: Part[], size: number, subSize: number, family: string) {
  let w = 0;
  for (const p of parts) {
    ctx.font = `${p.bold ? "bold " : ""}${p.sub ? subSize : size}px ${family}`;
    w += ctx.measureText(p.t).width;
  }
  return w;
}

function drawRich(ctx: CanvasRenderingContext2D, parts: Part[], x: number, y: number, size: number, subSize: number, subDy: number, family: string, color: string, align: "left" | "center") {
  const w = richWidth(ctx, parts, size, subSize, family);
  let cx = align === "center" ? x - w / 2 : x;
  ctx.fillStyle = color;
  ctx.textAlign = "left";
  ctx.textBaseline = "alphabetic";
  for (const p of parts) {
    ctx.font = `${p.bold ? "bold " : ""}${p.sub ? subSize : size}px ${family}`;
    ctx.fillText(p.t, cx, p.sub ? y + subDy : y);
    cx += ctx.measureText(p.t).width;
  }
}

const legendLine3 = "Objects Meeting the zYJ criteria";

function legendSize(ctx: CanvasRenderingContext2D) {
  ctx.font = `100px ${LEGEND_FONT}`;
  const w = ctx.measureText(legendLine3).width;
  return (100 * 218) / w;
}

function makeFramePlugin(side: "left" | "right") {
  return {
    id: "frame-" + side,
    afterDraw(chart: any) {
      const ctx: CanvasRenderingContext2D = chart.ctx;
      const a = chart.chartArea;
      const xs = chart.scales.x;
      const ys = chart.scales.y;
      const MAJ = 11;
      const MIN = 6;
      ctx.save();
      ctx.strokeStyle = "#000";
      ctx.lineWidth = 2;
      ctx.beginPath();
      const vx = (v: number, len: number) => {
        const px = Math.round(xs.getPixelForValue(v));
        ctx.moveTo(px, a.bottom);
        ctx.lineTo(px, a.bottom - len);
        ctx.moveTo(px, a.top);
        ctx.lineTo(px, a.top + len);
      };
      const vy = (v: number, len: number) => {
        const py = Math.round(ys.getPixelForValue(v));
        ctx.moveTo(a.left, py);
        ctx.lineTo(a.left + len, py);
        ctx.moveTo(a.right, py);
        ctx.lineTo(a.right - len, py);
      };
      xMajorTicks.forEach((v) => vx(v, MAJ));
      xMinorTicks.forEach((v) => vx(v, MIN));
      yMajorTicks.forEach((v) => vy(v, MAJ));
      yMinorTicks.forEach((v) => vy(v, MIN));
      ctx.stroke();
      ctx.lineWidth = 2.5;
      ctx.strokeRect(a.left, a.top, a.right - a.left, a.bottom - a.top);

      // tick labels
      ctx.fillStyle = "#000";
      ctx.font = `17px ${FONT}`;
      ctx.textAlign = "center";
      ctx.textBaseline = "alphabetic";
      xMajorTicks.forEach((v, i) => {
        ctx.fillText(xTickLabels[i], xs.getPixelForValue(v), 287);
      });
      if (side === "left") {
        ctx.textAlign = "right";
        yMajorTicks.forEach((v, i) => {
          ctx.fillText(yTickLabels[i], 91, ys.getPixelForValue(v) + 6);
        });
      }

      // legend texts
      const ls = legendSize(ctx);
      const ss = ls * 0.62;
      if (side === "left") {
        drawRich(ctx, [{ t: "Observed: J" }, { t: "125w", sub: true }, { t: "<28.5" }], 115, 32.5, ls, ss, 3.5, LEGEND_FONT, LEGEND_GRAY, "left");
        drawRich(ctx, [{ t: "Observed: J" }, { t: "125w", sub: true, bold: true }, { t: "<26.0" }], 115, 50, ls, ss, 3.5, LEGEND_FONT, "#000", "left");
        drawRich(ctx, [{ t: legendLine3 }], 115, 67, ls, ss, 3.5, LEGEND_FONT, PURPLE, "left");

        // axis titles
        drawRich(ctx, [{ t: "(Y" }, { t: "105", sub: true }, { t: "\u2212J" }, { t: "125", sub: true }, { t: ")" }, { t: "AB", sub: true }], 358, 326, 20, 14, 5, FONT, "#000", "center");
        ctx.save();
        ctx.translate(30, (a.top + a.bottom) / 2);
        ctx.rotate(-Math.PI / 2);
        drawRich(ctx, [{ t: "(z" }, { t: "850", sub: true }, { t: "\u2212Y" }, { t: "105", sub: true }, { t: ")" }, { t: "AB", sub: true }], 0, 0, 20, 14, 5, FONT, "#000", "center");
        ctx.restore();
      } else {
        drawRich(ctx, [{ t: "Simulated: J" }, { t: "125w", sub: true }, { t: "<28.5" }], a.left + 15, 32.5, ls, ss, 3.5, LEGEND_FONT, LEGEND_GRAY, "left");
      }
      ctx.restore();
    },
  };
}

const toXY = (p: number[]) => ({ x: p[0], y: p[1] });

function buildConfig(side: "left" | "right", padding: any) {
  const gray = side === "left" ? leftGray.concat(leftGrayCore) : rightGray.concat(rightGrayCore);
  const datasets: any[] = [
    {
      type: "line",
      data: selectionX.map((x, i) => ({ x, y: selectionY[i] })),
      fill: "end",
      backgroundColor: SHADE,
      borderColor: "rgba(0,0,0,0)",
      borderWidth: 0,
      pointRadius: 0,
      tension: 0,
      order: 10,
    },
    {
      type: "scatter",
      data: gray.map(toXY),
      backgroundColor: GRAY,
      borderWidth: 0,
      pointRadius: 1.35,
      order: 3,
    },
  ];
  if (side === "left") {
    datasets.push({
      type: "scatter",
      data: leftBlack.map(toXY),
      backgroundColor: BLACK,
      borderWidth: 0,
      pointRadius: 1.4,
      order: 2,
    });
  }
  datasets.push({
    type: "scatter",
    data: (side === "left" ? leftPurple : rightPurple).map(toXY),
    backgroundColor: PURPLE,
    borderWidth: 0,
    pointRadius: 2.3,
    order: 1,
  });
  return {
    type: "scatter",
    data: { datasets },
    options: {
      responsive: false,
      maintainAspectRatio: false,
      animation: false,
      events: [],
      devicePixelRatio: 1,
      layout: { padding },
      scales: {
        x: { type: "linear", min: X_MIN, max: X_MAX, display: false },
        y: { type: "linear", min: Y_MIN, max: Y_MAX, display: false },
      },
      plugins: { legend: { display: false }, tooltip: { enabled: false } },
    },
    plugins: [makeFramePlugin(side)],
  };
}

export default function App() {
  const leftRef = useRef<HTMLCanvasElement>(null);
  const rightRef = useRef<HTMLCanvasElement>(null);
  useEffect(() => {
    const c1 = new Chart(leftRef.current as any, buildConfig("left", { left: 100, right: 256.5, top: 8, bottom: 67.5 }) as any);
    const c2 = new Chart(rightRef.current as any, buildConfig("right", { left: 7.5, right: 15, top: 8, bottom: 67.5 }) as any);
    return () => {
      c1.destroy();
      c2.destroy();
    };
  }, []);
  return (
    <div style={{ position: "fixed", left: 0, top: 0, width: 614, height: 332, overflow: "hidden", background: "#fff" }}>
      <canvas ref={leftRef} width={614} height={332} style={{ position: "absolute", left: 0, top: 0 }} />
      <canvas ref={rightRef} width={280} height={332} style={{ position: "absolute", left: 350, top: 0 }} />
    </div>
  );
}
